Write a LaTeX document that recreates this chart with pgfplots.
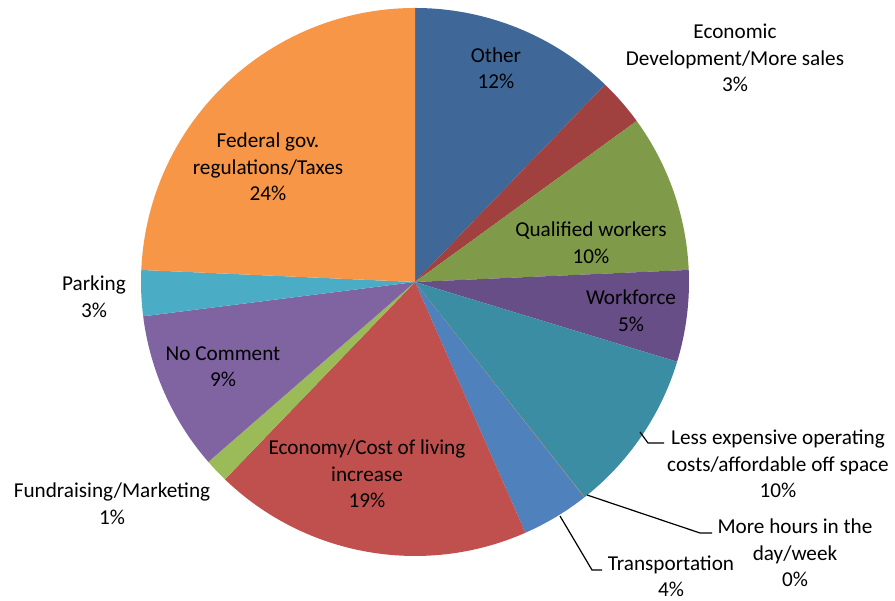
\documentclass[border=0pt]{standalone}
\usepackage{pgfplots}
\pgfplotsset{compat=1.18}
\usepackage{pgfplotstable}
\usepackage{fontspec}
\setmainfont{Carlito}
\definecolor{c0}{HTML}{3F6899}
\definecolor{c1}{HTML}{A0413F}
\definecolor{c2}{HTML}{7F9A48}
\definecolor{c3}{HTML}{674E86}
\definecolor{c4}{HTML}{3B8DA3}
\definecolor{c5}{HTML}{D77B2E}
\definecolor{c6}{HTML}{4F81BD}
\definecolor{c7}{HTML}{C0504D}
\definecolor{c8}{HTML}{9BBB59}
\definecolor{c9}{HTML}{8064A2}
\definecolor{c10}{HTML}{4BACC6}
\definecolor{c11}{HTML}{F79646}
\pgfplotstableread{
id value
0 12.2
1 2.8
2 9.3
3 5.4
4 9.68
5 0.02
6 4.0
7 18.8
8 1.4
9 9.4
10 2.7
11 24.3
}\piedata
\begin{document}
\begin{tikzpicture}
\def\cum{0}
\pgfplotsforeachungrouped \i in {0,...,11}{%
  \pgfplotstablegetelem{\i}{value}\of\piedata
  \pgfmathparse{90-3.6*\cum}\expandafter\xdef\csname sa\i\endcsname{\pgfmathresult}%
  \pgfmathparse{\cum+\pgfplotsretval}\xdef\cum{\pgfmathresult}%
  \pgfmathparse{90-3.6*\cum}\expandafter\xdef\csname ea\i\endcsname{\pgfmathresult}%
}
\begin{axis}[at={(0,0)},anchor=south west,scale only axis,width=895pt,height=601pt,
  xmin=0,xmax=895,ymin=0,ymax=601,hide axis,clip=false]
\pgfplotsinvokeforeach{0,...,11}{%
  \edef\temp{\noexpand\fill[c#1] (axis cs:415,319) -- ++(\csname sa#1\endcsname:274pt) arc[start angle=\csname sa#1\endcsname, end angle=\csname ea#1\endcsname, radius=274pt] -- cycle;}\temp
}
\draw[line width=1.2pt] (axis cs:640,169) -- (axis cs:648,158) -- (axis cs:664,158);
\draw[line width=1.2pt] (axis cs:587,106) -- (axis cs:700,68) -- (axis cs:712,68);
\draw[line width=1.2pt] (axis cs:560,85) -- (axis cs:592,31) -- (axis cs:602,31);
\tikzset{lab/.style={align=center,font=\fontsize{21.2}{26.5}\selectfont,inner sep=0pt}}
\node[lab] at (axis cs:496,533) {Other\\12\%};
\node[lab] at (axis cs:735,543) {Economic\\Development/More sales\\3\%};
\node[lab] at (axis cs:268,434) {Federal gov.\\regulations/Taxes\\24\%};
\node[lab] at (axis cs:591,358.5) {Qualified workers\\10\%};
\node[lab] at (axis cs:631,290.5) {Workforce\\5\%};
\node[lab] at (axis cs:94,304.5) {Parking\\3\%};
\node[lab] at (axis cs:223,234.5) {No Comment\\9\%};
\node[lab] at (axis cs:778,137) {Less expensive operating\\costs/affordable off space\\10\%};
\node[lab] at (axis cs:795,48) {More hours in the\\day/week\\0\%};
\node[lab] at (axis cs:112,97.5) {Fundraising/Marketing\\1\%};
\node[lab] at (axis cs:367,127) {Economy/Cost of living\\increase\\19\%};
\node[lab] at (axis cs:671,24.5) {Transportation\\4\%};
\end{axis}
\pgfresetboundingbox
\path[use as bounding box] (0,0) rectangle (895pt,601pt);
\end{tikzpicture}
\end{document}
